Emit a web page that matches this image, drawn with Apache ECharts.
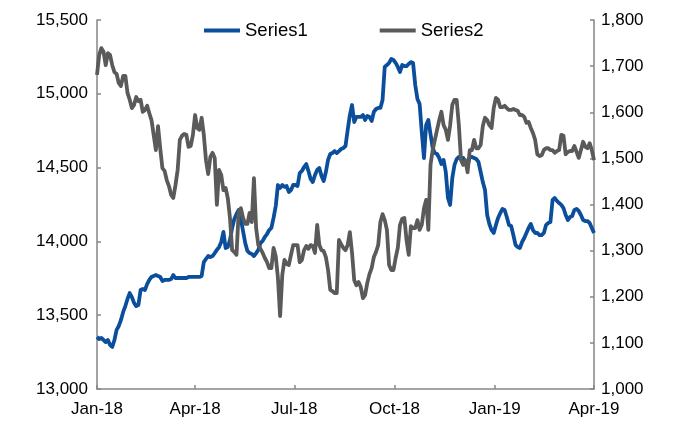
<!DOCTYPE html>
<html>
<head>
<meta charset="utf-8">
<script src="https://cdn.jsdelivr.net/npm/echarts@6/dist/echarts.min.js"></script>
<style>
  html, body { margin: 0; padding: 0; background: #fff; }
  #chart { width: 680px; height: 425px; }
</style>
</head>
<body>
<div id="chart"></div>
<script>
// Observation dates (every second day, Jan 2018 – Apr 2019)
const dates = [
  '2018-01-01','2018-01-03','2018-01-05','2018-01-07','2018-01-09','2018-01-11','2018-01-13','2018-01-15',
  '2018-01-17','2018-01-19','2018-01-21','2018-01-23','2018-01-25','2018-01-27','2018-01-29','2018-01-31',
  '2018-02-02','2018-02-04','2018-02-06','2018-02-08','2018-02-10','2018-02-12','2018-02-14','2018-02-16',
  '2018-02-18','2018-02-20','2018-02-22','2018-02-24','2018-02-26','2018-02-28',
  '2018-03-02','2018-03-04','2018-03-06','2018-03-08','2018-03-10','2018-03-12','2018-03-14','2018-03-16',
  '2018-03-18','2018-03-20','2018-03-22','2018-03-24','2018-03-26','2018-03-28','2018-03-30',
  '2018-04-01','2018-04-03','2018-04-05','2018-04-07','2018-04-09','2018-04-11','2018-04-13','2018-04-15',
  '2018-04-17','2018-04-19','2018-04-21','2018-04-23','2018-04-25','2018-04-27','2018-04-29',
  '2018-05-01','2018-05-03','2018-05-05','2018-05-07','2018-05-09','2018-05-11','2018-05-13','2018-05-15',
  '2018-05-17','2018-05-19','2018-05-21','2018-05-23','2018-05-25','2018-05-27','2018-05-29','2018-05-31',
  '2018-06-02','2018-06-04','2018-06-06','2018-06-08','2018-06-10','2018-06-12','2018-06-14','2018-06-16',
  '2018-06-18','2018-06-20','2018-06-22','2018-06-24','2018-06-26','2018-06-28','2018-06-30',
  '2018-07-02','2018-07-04','2018-07-06','2018-07-08','2018-07-10','2018-07-12','2018-07-14','2018-07-16',
  '2018-07-18','2018-07-20','2018-07-22','2018-07-24','2018-07-26','2018-07-28','2018-07-30',
  '2018-08-01','2018-08-03','2018-08-05','2018-08-07','2018-08-09','2018-08-11','2018-08-13','2018-08-15',
  '2018-08-17','2018-08-19','2018-08-21','2018-08-23','2018-08-25','2018-08-27','2018-08-29','2018-08-31',
  '2018-09-02','2018-09-04','2018-09-06','2018-09-08','2018-09-10','2018-09-12','2018-09-14','2018-09-16',
  '2018-09-18','2018-09-20','2018-09-22','2018-09-24','2018-09-26','2018-09-28','2018-09-30',
  '2018-10-02','2018-10-04','2018-10-06','2018-10-08','2018-10-10','2018-10-12','2018-10-14','2018-10-16',
  '2018-10-18','2018-10-20','2018-10-22','2018-10-24','2018-10-26','2018-10-28','2018-10-30',
  '2018-11-01','2018-11-03','2018-11-05','2018-11-07','2018-11-09','2018-11-11','2018-11-13','2018-11-15',
  '2018-11-17','2018-11-19','2018-11-21','2018-11-23','2018-11-25','2018-11-27','2018-11-29',
  '2018-12-01','2018-12-03','2018-12-05','2018-12-07','2018-12-09','2018-12-11','2018-12-13','2018-12-15',
  '2018-12-17','2018-12-19','2018-12-21','2018-12-23','2018-12-25','2018-12-27','2018-12-29','2018-12-31',
  '2019-01-02','2019-01-04','2019-01-06','2019-01-08','2019-01-10','2019-01-12','2019-01-14','2019-01-16',
  '2019-01-18','2019-01-20','2019-01-22','2019-01-24','2019-01-26','2019-01-28','2019-01-30',
  '2019-02-01','2019-02-03','2019-02-05','2019-02-07','2019-02-09','2019-02-11','2019-02-13','2019-02-15',
  '2019-02-17','2019-02-19','2019-02-21','2019-02-23','2019-02-25','2019-02-27',
  '2019-03-01','2019-03-03','2019-03-05','2019-03-07','2019-03-09','2019-03-11','2019-03-13','2019-03-15',
  '2019-03-17','2019-03-19','2019-03-21','2019-03-23','2019-03-25','2019-03-27','2019-03-29','2019-03-31',
  '2019-04-02'
];

// Series1 (left axis)
const series1 = [
  13352,13339,13346,13332,13318,13332,13298,13285,13332,13400,
  13427,13468,13522,13562,13610,13650,13623,13583,13562,13569,
  13671,13678,13671,13711,13739,13759,13766,13772,13766,13759,
  13732,13739,13739,13739,13745,13772,13752,13752,13752,13752,
  13752,13752,13759,13759,13759,13759,13759,13759,13766,13860,
  13881,13901,13894,13901,13921,13942,13962,13996,14064,13955,
  13962,14010,14091,14152,14186,14213,14152,14070,13989,13935,
  13921,13915,13901,13921,13942,13989,14003,14030,14050,14077,
  14091,14159,14240,14382,14362,14382,14369,14375,14335,14348,
  14382,14382,14375,14463,14477,14504,14524,14477,14423,14402,
  14450,14484,14497,14443,14409,14470,14552,14592,14599,14612,
  14599,14612,14626,14633,14646,14755,14856,14924,14809,14843,
  14843,14843,14856,14823,14850,14843,14816,14877,14897,14904,
  14904,14958,15182,15195,15209,15236,15229,15209,15182,15148,
  15195,15188,15188,15202,15215,15209,15060,14965,14931,14741,
  14565,14789,14823,14728,14633,14599,14592,14565,14524,14552,
  14470,14294,14247,14430,14518,14558,14572,14558,14565,14538,
  14511,14572,14572,14565,14558,14538,14470,14402,14348,14179,
  14118,14077,14057,14111,14159,14192,14220,14213,14165,14111,
  14104,14043,13976,13962,13955,13996,14023,14057,14091,14118,
  14077,14057,14057,14043,14043,14057,14111,14125,14131,14281,
  14294,14274,14260,14247,14226,14179,14145,14165,14172,14213,
  14220,14206,14179,14145,14138,14138,14125,14091,14057
];

// Series2 (right axis)
const series2 = [
  1681,1724,1739,1731,1702,1728,1724,1702,1687,1683,
  1663,1657,1679,1679,1642,1627,1609,1616,1633,1624,
  1627,1601,1605,1614,1598,1583,1551,1518,1570,1522,
  1479,1473,1453,1440,1421,1414,1442,1475,1540,1549,
  1553,1551,1525,1527,1551,1594,1566,1562,1588,1551,
  1496,1466,1503,1512,1501,1399,1475,1464,1431,1436,
  1414,1371,1301,1297,1291,1384,1392,1371,1358,1358,
  1382,1362,1457,1349,1312,1304,1295,1284,1275,1262,
  1262,1306,1288,1241,1158,1247,1280,1271,1269,1291,
  1312,1312,1312,1275,1280,1301,1310,1304,1312,1310,
  1295,1356,1312,1301,1299,1286,1258,1215,1212,1208,
  1208,1323,1314,1306,1301,1312,1340,1295,1236,1225,
  1232,1221,1197,1204,1230,1249,1262,1286,1297,1312,
  1362,1379,1366,1345,1269,1258,1258,1284,1306,1356,
  1369,1371,1323,1291,1353,1349,1349,1366,1345,1356,
  1392,1410,1345,1486,1518,1540,1562,1583,1601,1572,
  1562,1540,1572,1616,1627,1627,1572,1496,1486,1496,
  1470,1518,1518,1540,1522,1522,1529,1570,1588,1583,
  1572,1566,1609,1631,1627,1611,1611,1614,1609,1605,
  1605,1607,1605,1603,1594,1594,1590,1577,1579,1566,
  1555,1540,1509,1505,1507,1518,1522,1522,1518,1518,
  1512,1516,1518,1551,1549,1509,1514,1516,1516,1527,
  1514,1501,1518,1536,1525,1522,1533,1518,1496
];

const monthNames = ['Jan','Feb','Mar','Apr','May','Jun','Jul','Aug','Sep','Oct','Nov','Dec'];
const DAY = 24 * 3600 * 1000;

function withCommas(v) {
  return String(Math.round(v)).replace(/\B(?=(\d{3})+(?!\d))/g, ',');
}

const FONT = 'Liberation Sans, Arial, sans-serif';
const AXIS_GREY = '#868686';
const BLUE = '#0B4F9C';
const GREY = '#5A5A5A';

const chart = echarts.init(document.getElementById('chart'), null, { renderer: 'canvas' });

chart.setOption({
  animation: false,
  backgroundColor: '#ffffff',
  textStyle: { fontFamily: FONT },
  grid: { left: 97, right: 86, top: 20, bottom: 36, containLabel: false, outerBoundsMode: 'none' },
  legend: {
    left: 199,
    top: 16,
    itemWidth: 36,
    itemHeight: 4,
    itemGap: 72,
    icon: 'rect',
    textStyle: { fontFamily: FONT, fontSize: 18.5, color: '#000' },
    data: ['Series1', 'Series2']
  },
  xAxis: {
    type: 'time',
    min: '2018-01-01',
    max: '2019-04-02',
    minInterval: 85 * DAY,
    maxInterval: 95 * DAY,
    splitNumber: 5,
    axisLine: { show: true, lineStyle: { color: AXIS_GREY, width: 1.5 } },
    axisTick: { show: true, inside: true, length: 4, lineStyle: { color: AXIS_GREY, width: 1.5 } },
    splitLine: { show: false },
    axisLabel: {
      show: true,
      margin: 12,
      fontFamily: FONT,
      fontSize: 17,
      fontWeight: 'normal',
      color: '#000',
      showMinLabel: true,
      showMaxLabel: true,
      hideOverlap: false,
      formatter: function (v) {
        const d = new Date(v);
        return monthNames[d.getMonth()] + '-' + String(d.getFullYear()).slice(2);
      }
    }
  },
  yAxis: [
    {
      type: 'value',
      min: 13000,
      max: 15500,
      interval: 500,
      position: 'left',
      axisLine: { show: true, lineStyle: { color: AXIS_GREY, width: 1.5 } },
      axisTick: { show: true, inside: true, length: 4, lineStyle: { color: AXIS_GREY, width: 1.5 } },
      splitLine: { show: false },
      axisLabel: { margin: 9, fontFamily: FONT, fontSize: 17, color: '#000', formatter: withCommas }
    },
    {
      type: 'value',
      min: 1000,
      max: 1800,
      interval: 100,
      position: 'right',
      axisLine: { show: true, lineStyle: { color: AXIS_GREY, width: 1.5 } },
      axisTick: { show: true, inside: true, length: 4, lineStyle: { color: AXIS_GREY, width: 1.5 } },
      splitLine: { show: false },
      axisLabel: { margin: 7, fontFamily: FONT, fontSize: 17, color: '#000', formatter: withCommas }
    }
  ],
  series: [
    {
      name: 'Series1',
      type: 'line',
      yAxisIndex: 0,
      showSymbol: false,
      symbol: 'none',
      color: BLUE,
      lineStyle: { color: BLUE, width: 3.8, join: 'round' },
      data: dates.map((d, i) => [d, series1[i]])
    },
    {
      name: 'Series2',
      type: 'line',
      yAxisIndex: 1,
      showSymbol: false,
      symbol: 'none',
      color: GREY,
      lineStyle: { color: GREY, width: 3.8, join: 'round' },
      data: dates.map((d, i) => [d, series2[i]])
    }
  ]
});
</script>
</body>
</html>
